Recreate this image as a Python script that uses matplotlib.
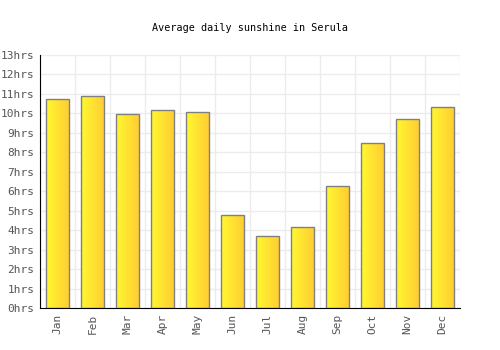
import numpy as np
import matplotlib
matplotlib.use("Agg")
import matplotlib.pyplot as plt
from matplotlib.colors import LinearSegmentedColormap

months = ["Jan", "Feb", "Mar", "Apr", "May", "Jun",
          "Jul", "Aug", "Sep", "Oct", "Nov", "Dec"]
sunshine = [10.75, 10.9, 9.95, 10.15, 10.05, 4.8,
            3.7, 4.15, 6.25, 8.5, 9.7, 10.35]
y_ticks = list(range(0, 14))
y_labels = [f"{t}hrs" for t in y_ticks]

plt.rcParams["font.family"] = "DejaVu Sans Mono"

fig = plt.figure(figsize=(5, 3.5), dpi=100)
ax = fig.add_axes([0.08, 0.12, 0.84, 0.723])

x = np.arange(len(months))
bars = ax.bar(x, sunshine, width=0.66, facecolor="none",
              edgecolor="#808080", linewidth=1.0, zorder=3)

# left-to-right yellow gradient inside each bar
cmap = LinearSegmentedColormap.from_list("sun", ["#fff830", "#ffcc33"])
grad = np.linspace(0, 1, 64).reshape(1, -1)
for b in bars:
    x0, w, h = b.get_x(), b.get_width(), b.get_height()
    im = ax.imshow(grad, cmap=cmap, aspect="auto",
                   extent=[x0, x0 + w, 0, h], zorder=2)
    im.set_clip_path(b)

ax.set_xlim(-0.5, len(months) - 0.5)
ax.set_ylim(0, 13)
ax.set_yticks(y_ticks)
ax.set_yticklabels(y_labels)
ax.set_xticks(x)
ax.set_xticklabels(months, rotation=90)
ax.set_xticks(np.arange(-0.5, len(months)), minor=True)

ax.grid(True, which="major", axis="y", color="#ececec", linewidth=1, zorder=0)
ax.grid(True, which="minor", axis="x", color="#ececec", linewidth=1, zorder=0)
ax.set_axisbelow(True)

for side in ["top", "right"]:
    ax.spines[side].set_visible(False)
ax.spines["left"].set_color("black")
ax.spines["bottom"].set_color("black")
ax.tick_params(axis="both", which="both", length=0, labelsize=8,
               labelcolor="#555555", pad=4)

fig.text(0.5, 0.92, "Average daily sunshine in Serula",
         ha="center", va="center", fontsize=7.3, color="black")

fig.savefig("out.png", dpi=100)
